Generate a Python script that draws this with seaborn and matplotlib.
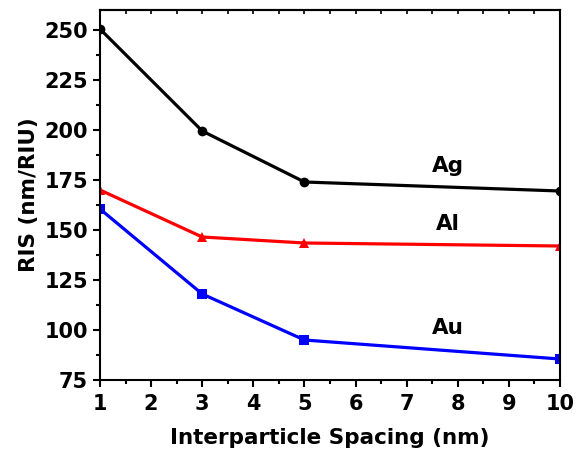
import matplotlib
matplotlib.use("Agg")
import matplotlib.pyplot as plt
from matplotlib.ticker import MultipleLocator
import pandas as pd
import seaborn as sns

# Refractive index sensitivity vs. interparticle spacing
spacing = [1, 3, 5, 10]
ris_ag = [250.5, 199.5, 174, 169.5]
ris_al = [170, 146.5, 143.5, 142]
ris_au = [160.5, 118, 95, 85.5]
metals = ["Ag", "Al", "Au"]
label_pos = {"Ag": (7.8, 182), "Al": (7.8, 153), "Au": (7.8, 101)}

df = pd.DataFrame({
    "spacing": spacing * 3,
    "ris": ris_ag + ris_al + ris_au,
    "metal": [m for m in metals for _ in spacing],
})

sns.set_style("ticks")
plt.rcParams["font.family"] = ["DejaVu Sans"]
plt.rcParams["font.weight"] = "bold"
plt.rcParams["text.color"] = "black"
plt.rcParams["axes.labelcolor"] = "black"
plt.rcParams["xtick.color"] = "black"
plt.rcParams["ytick.color"] = "black"

fig = plt.figure(figsize=(5.76, 4.49), dpi=100)
ax = fig.add_axes([100 / 576, 1 - 380 / 449, 460 / 576, 370 / 449])

palette = {"Ag": "#000000", "Al": "#ff0000", "Au": "#0000ff"}
markers = {"Ag": "o", "Al": "^", "Au": "s"}
sns.lineplot(data=df, x="spacing", y="ris", hue="metal", style="metal",
             palette=palette, markers=markers, dashes=False, linewidth=2.3,
             markersize=7, markeredgewidth=0, legend=False, ax=ax)

for m, (x, y) in label_pos.items():
    ax.text(x, y, m, ha="center", va="center", fontsize=15.5,
            fontweight="bold", color="black")

ax.set_xlim(1, 10)
ax.set_ylim(75, 260)
ax.xaxis.set_major_locator(MultipleLocator(1))
ax.xaxis.set_minor_locator(MultipleLocator(0.5))
ax.yaxis.set_major_locator(MultipleLocator(25))
ax.yaxis.set_minor_locator(MultipleLocator(12.5))

for s in ax.spines.values():
    s.set_linewidth(1.5)
    s.set_color("black")
    s.set_visible(True)

ax.tick_params(which="major", direction="out", length=5, width=1.5,
               labelsize=15, top=False, right=False)
ax.tick_params(which="minor", direction="out", length=3, width=1.5,
               top=False, right=False)
ax.tick_params(axis="x", which="major", pad=5)

# small inward ticks along the top edge
top = ax.secondary_xaxis("top")
top.xaxis.set_major_locator(MultipleLocator(1))
top.xaxis.set_minor_locator(MultipleLocator(0.5))
top.tick_params(which="both", direction="in", length=3, width=1.2,
                labeltop=False)
top.spines["top"].set_linewidth(1.5)

for lbl in ax.get_xticklabels() + ax.get_yticklabels():
    lbl.set_fontweight("bold")

ax.set_xlabel("Interparticle Spacing (nm)", fontsize=15.5, fontweight="bold", labelpad=10)
ax.set_ylabel("RIS (nm/RIU)", fontsize=15.5, fontweight="bold", labelpad=4)

fig.savefig("out.png", dpi=100)
